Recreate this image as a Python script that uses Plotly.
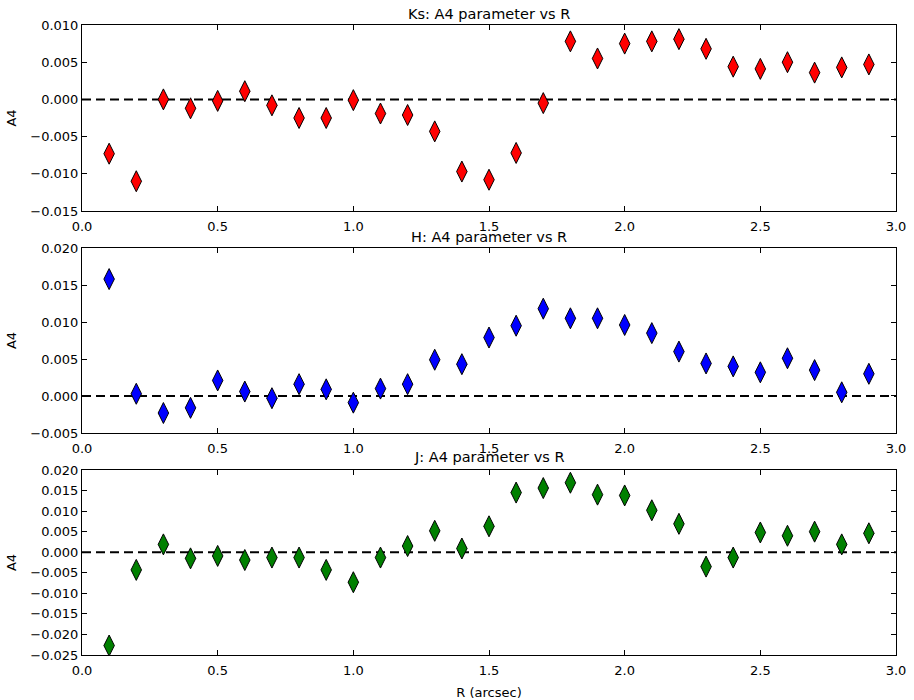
import plotly.graph_objects as go

# Radial sampling (arcsec)
r = [0.1, 0.2, 0.3, 0.4, 0.5, 0.6, 0.7, 0.8, 0.9, 1.0,
     1.1, 1.2, 1.3, 1.4, 1.5, 1.6, 1.7, 1.8, 1.9, 2.0,
     2.1, 2.2, 2.3, 2.4, 2.5, 2.6, 2.7, 2.8, 2.9]

# A4 isophote parameter per band
a4_ks = [-0.0073, -0.0110, 0.0000, -0.0012, -0.0002, 0.0011, -0.0008, -0.0025, -0.0025, -0.0001,
         -0.0019, -0.0021, -0.0043, -0.0097, -0.0108, -0.0072, -0.0005, 0.0078, 0.0055, 0.0075,
         0.0078, 0.0081, 0.0068, 0.0044, 0.0041, 0.0050, 0.0036, 0.0043, 0.0047]
a4_h = [0.0158, 0.0003, -0.0023, -0.0016, 0.0021, 0.0006, -0.0003, 0.0016, 0.0009, -0.0009,
        0.0010, 0.0016, 0.0049, 0.0043, 0.0079, 0.0095, 0.0118, 0.0105, 0.0105, 0.0096,
        0.0085, 0.0060, 0.0044, 0.0040, 0.0032, 0.0051, 0.0035, 0.0005, 0.0030]
a4_j = [-0.0227, -0.0043, 0.0019, -0.0015, -0.0009, -0.0019, -0.0013, -0.0013, -0.0043, -0.0073,
        -0.0013, 0.0015, 0.0052, 0.0009, 0.0063, 0.0145, 0.0156, 0.0169, 0.0140, 0.0138,
        0.0102, 0.0069, -0.0035, -0.0013, 0.0048, 0.0040, 0.0050, 0.0019, 0.0046]

panels = [
    ("Ks: A4 parameter vs R", a4_ks, "#ff0000", [-0.015, 0.010], [0.7048, 1.0]),
    ("H: A4 parameter vs R", a4_h, "#0000ff", [-0.005, 0.020], [0.3524, 0.646]),
    ("J: A4 parameter vs R", a4_j, "#008000", [-0.025, 0.020], [0.0, 0.2937]),
]

FONT = "DejaVu Sans"
fig = go.Figure()
layout = dict(
    width=914, height=700,
    margin=dict(l=82, r=18, t=25, b=45),
    paper_bgcolor="white", plot_bgcolor="white",
    showlegend=False,
    font=dict(family=FONT, size=13, color="black"),
    shapes=[], annotations=[],
)

for i, (title, vals, color, yr, dom) in enumerate(panels):
    n = "" if i == 0 else str(i + 1)
    xa, ya = "x" + n, "y" + n
    fig.add_trace(go.Scatter(
        x=r, y=vals, mode="markers", xaxis=xa, yaxis=ya,
        marker=dict(symbol="diamond-tall", size=15, color=color,
                    line=dict(color="black", width=1)),
    ))
    axis_common = dict(
        showline=True, linecolor="black", linewidth=1, mirror="ticks",
        ticks="inside", ticklen=5, tickcolor="black", tickwidth=1,
        showgrid=False, zeroline=False, automargin=False,
        tickfont=dict(family=FONT, size=13, color="black"),
    )
    layout["xaxis" + n] = dict(
        axis_common, range=[0, 3], dtick=0.5, tick0=0, tickformat=".1f",
        anchor=ya, domain=[0, 1], ticklabelstandoff=3,
        title=dict(text="R (arcsec)", font=dict(size=13), standoff=12) if i == 2 else None,
    )
    layout["yaxis" + n] = dict(
        axis_common, range=yr, dtick=0.005, tick0=0, tickformat=".3f",
        anchor=xa, domain=dom,
        title=dict(text="A4", font=dict(size=13), standoff=10),
    )
    # zero reference line
    layout["shapes"].append(dict(
        type="line", xref=xa + " domain", yref=ya, x0=0, x1=1, y0=0, y1=0,
        line=dict(color="black", width=2, dash="9px,5px"), layer="below",
    ))
    layout["annotations"].append(dict(
        text=title, xref=xa + " domain", yref=ya + " domain", x=0.5, y=1,
        xanchor="center", yanchor="bottom", yshift=1 if i < 2 else 3, showarrow=False,
        font=dict(family=FONT, size=14.5, color="black"),
    ))

fig.update_layout(**layout)
fig.write_html("out.html")
